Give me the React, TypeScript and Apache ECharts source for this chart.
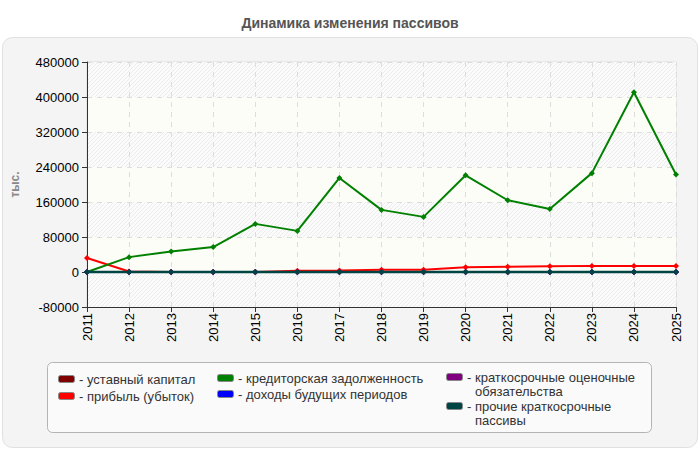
import React, { useEffect, useRef } from "react";
import * as echarts from "echarts";

// Reporting years
const years = [
  "2011", "2012", "2013", "2014", "2015", "2016", "2017", "2018",
  "2019", "2020", "2021", "2022", "2023", "2024", "2025",
];

// Liability items, in thousands
const charterCapital = [0, 0, 0, 0, 0, 0, 0, 0, 0, 0, 0, 0, 0, 0, 0];
const profitLoss = [32000, 1000, 0, 0, 0, 3000, 3500, 5000, 5000, 11000, 12000, 13000, 14000, 14000, 14000];
const payables = [0, 34000, 47000, 57000, 110000, 94000, 215000, 142000, 126000, 221000, 164000, 144000, 226000, 411000, 223000];
const deferredIncome = [0, 0, 0, 0, 0, 0, 0, 0, 0, 0, 0, 0, 0, 0, 0];
const estimatedLiabilities = [0, 0, 0, 0, 0, 0, 0, 0, 0, 0, 0, 0, 0, 0, 0];
const otherLiabilities = [0, 0, 0, 0, 0, 0, 0, 0, 0, 0, 0, 0, 0, 0, 0];

const seriesNames = [
  "уставный капитал",
  "прибыль (убыток)",
  "кредиторская задолженность",
  "доходы будущих периодов",
  "краткосрочные оценочные обязательства",
  "прочие краткосрочные пассивы",
];
const legendLabels = [
  "уставный капитал",
  "прибыль (убыток)",
  "кредиторская задолженность",
  "доходы будущих периодов",
  "краткосрочные оценочные\nобязательства",
  "прочие краткосрочные\nпассивы",
];
const seriesColors = ["#800000", "#ff0000", "#008000", "#0000ff", "#800080", "#004444"];
const seriesData = [charterCapital, profitLoss, payables, deferredIncome, estimatedLiabilities, otherLiabilities];

// Value axis
const yMin = -80000;
const yMax = 480000;
const yStep = 80000;

// Legend cell placement (icon left, first text line centre)
const legendSlots = [
  { x: 58, y: 379 },
  { x: 58, y: 396 },
  { x: 217, y: 378 },
  { x: 217, y: 394 },
  { x: 446, y: 377 },
  { x: 446, y: 406 },
];

const FONT = "'Liberation Sans', Arial, sans-serif";

function makeHatch(): any {
  const c = document.createElement("canvas");
  c.width = 4;
  c.height = 4;
  const ctx = c.getContext("2d")!;
  ctx.fillStyle = "#fbfbfb";
  ctx.fillRect(0, 0, 4, 4);
  ctx.strokeStyle = "#ececec";
  ctx.lineWidth = 1;
  ctx.beginPath();
  ctx.moveTo(0, 4);
  ctx.lineTo(4, 0);
  ctx.moveTo(-1, 1);
  ctx.lineTo(1, -1);
  ctx.moveTo(3, 5);
  ctx.lineTo(5, 3);
  ctx.stroke();
  return { image: c, repeat: "repeat", imageWidth: 4, imageHeight: 4 };
}

export default function App() {
  const ref = useRef<HTMLDivElement>(null);

  useEffect(() => {
    if (!ref.current) return;
    const chart = echarts.init(ref.current, undefined, { renderer: "svg" });

    const legendElements: any[] = [];
    seriesNames.forEach((_, i) => {
      const s = legendSlots[i];
      legendElements.push({
        type: "rect",
        shape: { x: s.x + 0.5, y: s.y - 3.5, width: 16, height: 7, r: 2 },
        style: { fill: seriesColors[i], stroke: "#888", lineWidth: 1 },
        z: 10,
      });
      legendElements.push({
        type: "text",
        x: s.x + 21,
        y: s.y,
        style: { text: "-", font: `13px ${FONT}`, fill: "#333", verticalAlign: "middle" },
        z: 10,
      });
      legendElements.push({
        type: "text",
        x: s.x + 29,
        y: s.y - 7,
        style: {
          text: legendLabels[i],
          font: `13px ${FONT}`,
          fill: "#333",
          lineHeight: 14,
          verticalAlign: "top",
        },
        z: 10,
      });
    });

    chart.setOption({
      animation: false,
      textStyle: { fontFamily: FONT },
      title: {
        text: "Динамика изменения пассивов",
        left: "center",
        top: 11,
        textStyle: { fontSize: 14, fontWeight: "bold", color: "#555", fontFamily: FONT },
      },
      graphic: [
        {
          type: "rect",
          shape: { x: 2.5, y: 37.5, width: 695, height: 410, r: 10 },
          style: { fill: "#f4f4f4", stroke: "#e0e0e0", lineWidth: 1 },
          z: -10,
        },
        {
          type: "rect",
          shape: { x: 47.5, y: 362.5, width: 604, height: 70, r: 5 },
          style: { fill: "#fafafa", stroke: "#b4b4b4", lineWidth: 1 },
          z: 5,
        },
        ...legendElements,
      ],
      grid: {
        left: 87,
        top: 62,
        right: 24,
        bottom: 143,
        show: true,
        borderColor: "#dddddd",
        borderWidth: 1,
        backgroundColor: "transparent",
      },
      xAxis: {
        type: "category",
        data: years,
        boundaryGap: false,
        axisLine: { show: true, onZero: false, lineStyle: { color: "#333", width: 1 } },
        axisTick: { show: true, length: 5, lineStyle: { color: "#333" } },
        axisLabel: { rotate: 90, fontSize: 13, color: "#000", margin: 6, fontFamily: FONT },
        splitLine: { show: true, lineStyle: { color: "#dddddd", type: [5, 5] } },
      },
      yAxis: {
        type: "value",
        min: yMin,
        max: yMax,
        interval: yStep,
        name: "тыс.",
        nameLocation: "middle",
        nameGap: 66,
        nameTextStyle: { color: "#888", fontWeight: "bold", fontSize: 12, fontFamily: FONT },
        axisLine: { show: true, lineStyle: { color: "#333", width: 1 } },
        axisTick: { show: true, length: 5, lineStyle: { color: "#333" } },
        axisLabel: {
          fontSize: 13,
          color: "#000",
          margin: 8,
          fontFamily: FONT,
          formatter: (v: number) => String(v),
        },
        splitLine: { show: true, lineStyle: { color: "#dddddd", type: [5, 5] } },
        splitArea: { show: true, areaStyle: { color: [makeHatch(), "#fcfdf6"] } },
      },
      series: seriesNames.map((name, i) => ({
        name,
        type: "line",
        data: seriesData[i],
        symbol: "diamond",
        symbolSize: 6,
        showSymbol: true,
        lineStyle: { color: seriesColors[i], width: i === 5 ? 2.5 : 2 },
        itemStyle: { color: seriesColors[i] },
        z: 2 + i,
      })),
    });

    return () => chart.dispose();
  }, []);

  return (
    <div
      ref={ref}
      style={{ position: "absolute", left: 0, top: 0, width: 700, height: 450 }}
    />
  );
}
